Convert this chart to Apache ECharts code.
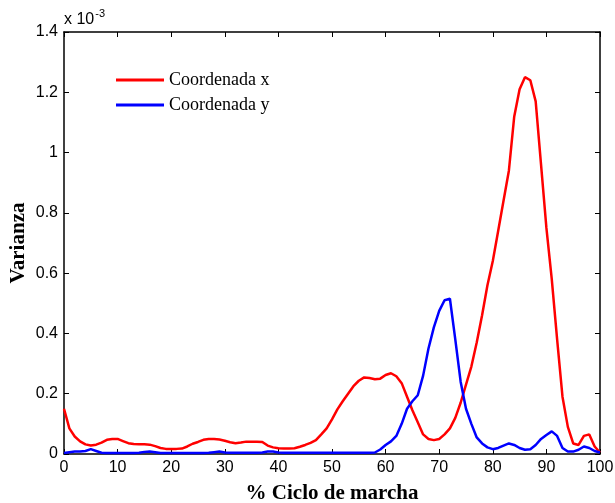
<!DOCTYPE html>
<html>
<head>
<meta charset="utf-8">
<script src="https://cdn.jsdelivr.net/npm/echarts@6/dist/echarts.min.js"></script>
<style>html,body{margin:0;padding:0;background:#fff}#c{width:615px;height:503px}</style>
</head>
<body>
<div id="c"></div>
<script>
// % gait cycle (0..100)
const cycle = Array.from({length: 101}, (_, i) => i);
// Variance values, in units of 10^-3
const coordX = [
  0.15, 0.085, 0.058, 0.042, 0.032, 0.028, 0.031, 0.038, 0.047, 0.05,
  0.05, 0.043, 0.036, 0.033, 0.032, 0.032, 0.031, 0.026, 0.02, 0.017,
  0.017, 0.017, 0.018, 0.025, 0.034, 0.04, 0.047, 0.05, 0.05, 0.048,
  0.044, 0.039, 0.036, 0.038, 0.041, 0.041, 0.041, 0.04, 0.028, 0.022,
  0.019, 0.018, 0.018, 0.019, 0.024, 0.03, 0.037, 0.046, 0.065, 0.085,
  0.115, 0.148, 0.175, 0.2, 0.225, 0.243, 0.254, 0.252, 0.248, 0.25,
  0.262, 0.268, 0.258, 0.235, 0.19, 0.145, 0.105, 0.065, 0.05, 0.046,
  0.05, 0.065, 0.085, 0.12, 0.17, 0.23, 0.29, 0.37, 0.46, 0.56,
  0.64, 0.74, 0.84, 0.94, 1.12, 1.21, 1.25, 1.24, 1.17, 0.96,
  0.75, 0.58, 0.38, 0.19, 0.09, 0.035, 0.03, 0.06, 0.065, 0.025,
  0.005
];
const coordY = [
  0.003, 0.006, 0.008, 0.008, 0.01, 0.016, 0.01, 0.004, 0.003, 0.003,
  0.003, 0.003, 0.003, 0.003, 0.004, 0.007, 0.008, 0.006, 0.003, 0.003,
  0.003, 0.003, 0.003, 0.003, 0.003, 0.003, 0.003, 0.004, 0.006, 0.008,
  0.005, 0.004, 0.004, 0.004, 0.004, 0.004, 0.004, 0.005, 0.008, 0.008,
  0.005, 0.004, 0.004, 0.004, 0.004, 0.004, 0.004, 0.004, 0.004, 0.004,
  0.004, 0.004, 0.004, 0.004, 0.004, 0.004, 0.004, 0.004, 0.005, 0.015,
  0.03, 0.042, 0.06, 0.1, 0.15, 0.175, 0.195, 0.26, 0.35, 0.42,
  0.475, 0.51, 0.515, 0.38, 0.24, 0.15, 0.1, 0.055, 0.035, 0.022,
  0.016, 0.02, 0.028, 0.035, 0.03, 0.02, 0.014, 0.016, 0.03, 0.05,
  0.063, 0.075, 0.06, 0.02, 0.008, 0.008, 0.014, 0.025, 0.02, 0.01,
  0.005
];
const seriesNames = ['Coordenada x', 'Coordenada y'];
const xTicks = [0, 10, 20, 30, 40, 50, 60, 70, 80, 90, 100];
const yTicks = [0, 0.2, 0.4, 0.6, 0.8, 1, 1.2, 1.4];

const chart = echarts.init(document.getElementById('c'), null, {renderer: 'canvas'});
const axisFont = {color: '#000', fontFamily: 'Liberation Sans, Arial', fontSize: 16};
const boxLine = {show: true, onZero: false, lineStyle: {color: '#000', width: 1.5}};
const tickIn = {show: true, inside: true, length: 5, lineStyle: {color: '#000', width: 1}};
const nameFont = {color: '#000', fontFamily: 'Liberation Serif, Times New Roman', fontSize: 21, fontWeight: 'bold'};
chart.setOption({
  animation: false,
  backgroundColor: '#fff',
  grid: {left: 64, right: 15, top: 32, bottom: 49, containLabel: false, outerBoundsMode: 'none'},
  legend: {
    orient: 'vertical', left: 111, top: 66, itemGap: 7,
    itemWidth: 48, itemHeight: 3, icon: 'rect',
    textStyle: {color: '#000', fontFamily: 'Liberation Serif, Times New Roman', fontSize: 18, padding: [0, 0, 0, 0]},
    data: seriesNames
  },
  xAxis: [{
    type: 'value', min: xTicks[0], max: xTicks[xTicks.length - 1], interval: 10,
    axisLine: boxLine, axisTick: tickIn, splitLine: {show: false},
    axisLabel: Object.assign({margin: 6}, axisFont),
    name: '% Ciclo de marcha', nameLocation: 'middle', nameGap: 29, nameMoveOverlap: false,
    nameTextStyle: nameFont
  }, {
    type: 'value', position: 'top', min: 0, max: 100, interval: 10,
    axisLine: boxLine, axisTick: tickIn, axisLabel: {show: false}, splitLine: {show: false}
  }],
  yAxis: [{
    type: 'value', min: yTicks[0], max: yTicks[yTicks.length - 1], interval: 0.2,
    axisLine: boxLine, axisTick: tickIn, splitLine: {show: false},
    axisLabel: Object.assign({margin: 6}, axisFont),
    name: 'Varianza', nameLocation: 'middle', nameGap: 35, nameRotate: 90, nameMoveOverlap: false,
    nameTextStyle: nameFont
  }, {
    type: 'value', position: 'right', min: 0, max: 1.4, interval: 0.2,
    axisLine: boxLine, axisTick: tickIn, axisLabel: {show: false}, splitLine: {show: false}
  }],
  graphic: [{
    type: 'text', left: 64, top: 8,
    style: {
      text: '{a|x 10}{b|-3}',
      rich: {
        a: {fontFamily: 'Liberation Sans, Arial', fontSize: 16, fill: '#000', verticalAlign: 'bottom'},
        b: {fontFamily: 'Liberation Sans, Arial', fontSize: 11, fill: '#000', verticalAlign: 'top', padding: [0, 0, 9, 1]}
      }
    }
  }],
  series: [{
    name: seriesNames[0], type: 'line', symbol: 'none', smooth: false,
    lineStyle: {color: '#ff0000', width: 2.5}, itemStyle: {color: '#ff0000'},
    data: cycle.map((c, i) => [c, coordX[i]])
  }, {
    name: seriesNames[1], type: 'line', symbol: 'none', smooth: false,
    lineStyle: {color: '#0000ff', width: 2.5}, itemStyle: {color: '#0000ff'},
    data: cycle.map((c, i) => [c, coordY[i]])
  }]
});
</script>
</body>
</html>
